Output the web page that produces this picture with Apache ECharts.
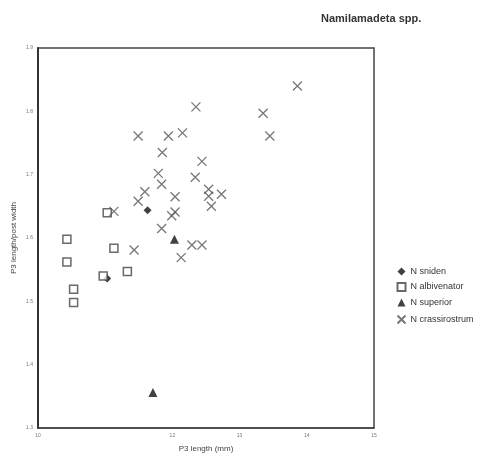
<!DOCTYPE html>
<html>
<head>
<meta charset="utf-8">
<script src="https://cdn.jsdelivr.net/npm/echarts@6/dist/echarts.min.js"></script>
<style>
  html, body { margin: 0; padding: 0; background: #fff; }
  #chart { width: 495px; height: 458px; }
</style>
</head>
<body>
<div id="chart"></div>
<script>
// axis ticks
const xTicks = ["10", "", "12", "13", "14", "15"];
const yTicks = ["1.3", "1.4", "1.5", "1.6", "1.7", "1.8", "1.9"];

// [P3 length, P3 length/post width]
const sniden = [[11.63, 1.644], [11.03, 1.536]];
const albivenator = [
    [11.03, 1.640], [10.43, 1.598], [11.13, 1.584], [10.43, 1.562],
    [10.97, 1.540], [11.33, 1.547], [10.53, 1.519], [10.53, 1.498]
];
const superior = [[12.03, 1.598], [11.71, 1.356]];
const crassirostrum = [
    [13.86, 1.840], [13.35, 1.797], [13.45, 1.761], [12.35, 1.807],
    [11.49, 1.761], [11.94, 1.761], [12.15, 1.766], [11.85, 1.735],
    [12.44, 1.721], [11.79, 1.702], [12.34, 1.696], [11.84, 1.685],
    [11.59, 1.673], [11.49, 1.658], [12.04, 1.665], [12.54, 1.677],
    [12.54, 1.666], [12.73, 1.669], [12.58, 1.650], [11.13, 1.642],
    [12.04, 1.641], [11.99, 1.635], [11.84, 1.615], [11.43, 1.581],
    [12.29, 1.589], [12.44, 1.589], [12.13, 1.569]
];

const CROSS = "path://M0,0L10,10M10,0L0,10";
const FONT = "Liberation Sans";

const chart = echarts.init(document.getElementById("chart"));

chart.setOption({
    backgroundColor: "#fff",
    animation: false,
    textStyle: { fontFamily: FONT },
    title: {
        text: "Namilamadeta spp.",
        left: 316,
        top: 8,
        textStyle: { fontSize: 11, fontWeight: "bold", color: "#333", fontFamily: FONT }
    },
    legend: {
        orient: "vertical",
        left: 395,
        top: 267,
        padding: 0,
        itemWidth: 8,
        itemHeight: 8,
        itemGap: 6,
        textStyle: { fontSize: 9, color: "#333", fontFamily: FONT },
        data: ["N sniden", "N albivenator", "N superior", "N crassirostrum"]
    },
    grid: {
        left: 38, right: 121, top: 48, bottom: 30,
        show: true, borderColor: "#444", borderWidth: 1.5
    },
    xAxis: {
        type: "value",
        min: 10, max: 15, interval: 1,
        name: "P3 length (mm)",
        nameLocation: "middle",
        nameGap: 17,
        nameMoveOverlap: false,
        nameTextStyle: { fontSize: 8, color: "#444" },
        axisLine: { show: true, lineStyle: { color: "#444", width: 1.5 } },
        axisTick: { show: false },
        splitLine: { show: false },
        axisLabel: {
            fontSize: 5, color: "#777", margin: 5,
            formatter: v => xTicks[Math.round(v - 10)]
        }
    },
    yAxis: {
        type: "value",
        min: 1.3, max: 1.9, interval: 0.1,
        name: "P3 length/post width",
        nameLocation: "middle",
        nameGap: 20,
        nameMoveOverlap: false,
        nameRotate: 90,
        nameTextStyle: { fontSize: 8, color: "#444" },
        axisLine: { show: true, lineStyle: { color: "#333", width: 2 } },
        axisTick: { show: false },
        splitLine: { show: false },
        axisLabel: {
            fontSize: 5, color: "#777", margin: 5,
            formatter: v => yTicks[Math.round((v - 1.3) * 10)]
        }
    },
    series: [
        {
            name: "N sniden", type: "scatter", data: sniden,
            symbol: "diamond", symbolSize: 8,
            itemStyle: { color: "#111" }
        },
        {
            name: "N albivenator", type: "scatter", data: albivenator,
            symbol: "rect", symbolSize: 8,
            itemStyle: { color: "#fff", borderColor: "#444", borderWidth: 1.5 }
        },
        {
            name: "N superior", type: "scatter", data: superior,
            symbol: "triangle", symbolSize: 9,
            itemStyle: { color: "#111" }
        },
        {
            name: "N crassirostrum", type: "scatter", data: crassirostrum,
            symbol: CROSS, symbolSize: 9,
            itemStyle: { color: "none", borderColor: "#555", borderWidth: 1.3 }
        }
    ]
});
</script>
</body>
</html>
